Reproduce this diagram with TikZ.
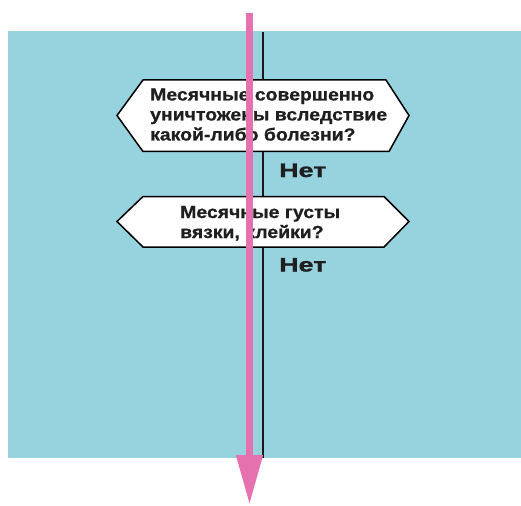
\documentclass[tikz,border=0pt]{standalone}
\usepackage{fontspec}
\setmainfont{Liberation Sans}
\newfontfamily\hexfont{Liberation Sans}[FakeStretch=1.11,FakeBold=0.8]
\newfontfamily\netfont{Liberation Sans}[FakeStretch=1.38,FakeBold=1.2]
\usetikzlibrary{arrows.meta}
\definecolor{bgblue}{RGB}{151,210,223}
\definecolor{pinkarrow}{RGB}{229,114,174}
\begin{document}
\begin{tikzpicture}[x=1pt,y=-1pt,
  question/.style={font=\hexfont\bfseries\fontsize{17.5}{20}\selectfont, text=black!88, align=left, inner sep=0pt, anchor=base west},
  answer/.style={font=\netfont\bfseries\fontsize{19.5}{20}\selectfont, text=black!88, inner sep=0pt, anchor=base west},
  hexbox/.style={draw=black, line width=1.5pt, fill=white, line join=miter},
  flowline/.style={line width=1.4pt, draw=black!90},
  mainarrow/.style={line width=7.5pt, draw=pinkarrow, -{Triangle[length=50pt,width=25pt]}}]
\useasboundingbox (0,0) rectangle (521,505);
\fill[bgblue] (8,31) rectangle (521,458);
\coordinate (lt) at (263,32);
\coordinate (lb) at (263,458);
\draw[flowline] (lt) -- (lb);
\draw[hexbox] (117,115.5) -- (143,80) -- (386,80) -- (409,115.5) -- (389,151.5) -- (143,151.5) -- cycle;
\draw[hexbox] (117,221.5) -- (143,196.5) -- (384,196.5) -- (409,221.5) -- (384,247) -- (143,247) -- cycle;
\node[question] (q1) at (150,140.5) {Месячные совершенно\\уничтожены вследствие\\какой-либо болезни?};
\node[question] (q2) at (180,238) {Месячные густы\\вязки, клейки?};
\node[answer] (n1) at (279,177) {Нет};
\node[answer] (n2) at (279,271.5) {Нет};
\coordinate (at) at (249.5,13);
\coordinate (ab) at (249.5,505);
\draw[mainarrow] (at) -- (ab);
\end{tikzpicture}
\end{document}
